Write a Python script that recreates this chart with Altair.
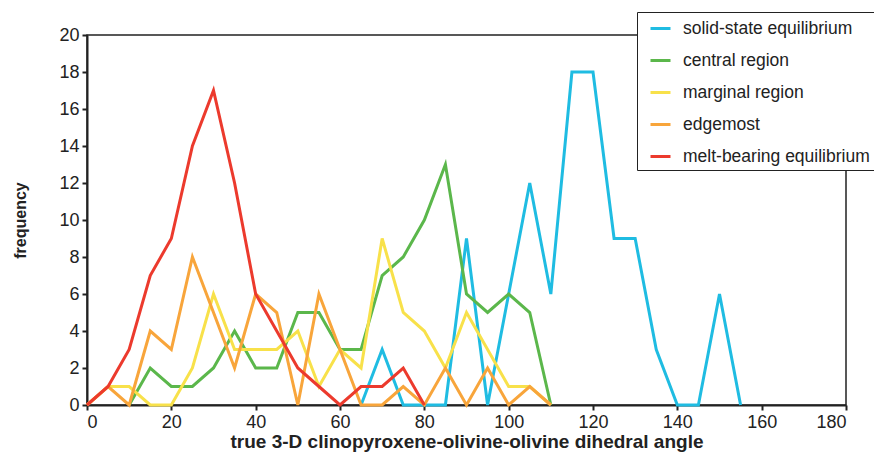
import altair as alt
import pandas as pd

series_names = ["solid-state equilibrium", "central region", "marginal region", "edgemost", "melt-bearing equilibrium"]
series_colors = ["#1FBCE2", "#5BB74B", "#F8E14A", "#F8A53B", "#EC3A2D"]

solid_angle = [65, 70, 75, 80, 85, 90, 95, 100, 105, 110, 115, 120, 125, 130, 135, 140, 145, 150, 155]
solid_freq = [0, 3, 0, 0, 0, 9, 0, 6, 12, 6, 18, 18, 9, 9, 3, 0, 0, 6, 0]

central_angle = [10, 15, 20, 25, 30, 35, 40, 45, 50, 55, 60, 65, 70, 75, 80, 85, 90, 95, 100, 105, 110]
central_freq = [0, 2, 1, 1, 2, 4, 2, 2, 5, 5, 3, 3, 7, 8, 10, 13, 6, 5, 6, 5, 0]

marginal_angle = [0, 5, 10, 15, 20, 25, 30, 35, 40, 45, 50, 55, 60, 65, 70, 75, 80, 85, 90, 95, 100, 105, 110]
marginal_freq = [0, 1, 1, 0, 0, 2, 6, 3, 3, 3, 4, 1, 3, 2, 9, 5, 4, 2, 5, 3, 1, 1, 0]

edge_angle = [0, 5, 10, 15, 20, 25, 30, 35, 40, 45, 50, 55, 60, 65, 70, 75, 80, 85, 90, 95, 100, 105, 110]
edge_freq = [0, 1, 0, 4, 3, 8, 5, 2, 6, 5, 0, 6, 3, 0, 0, 1, 0, 2, 0, 2, 0, 1, 0]

melt_angle = [0, 5, 10, 15, 20, 25, 30, 35, 40, 45, 50, 55, 60, 65, 70, 75, 80]
melt_freq = [0, 1, 3, 7, 9, 14, 17, 12, 6, 4, 2, 1, 0, 1, 1, 2, 0]

x_ticks = [0, 20, 40, 60, 80, 100, 120, 140, 160, 180]
y_ticks = [0, 2, 4, 6, 8, 10, 12, 14, 16, 18, 20]

pairs = [(solid_angle, solid_freq), (central_angle, central_freq), (marginal_angle, marginal_freq),
         (edge_angle, edge_freq), (melt_angle, melt_freq)]
frames = []
for i, (name, (a, f)) in enumerate(zip(series_names, pairs)):
    frames.append(pd.DataFrame({"angle": a, "freq": f, "series": name, "order": i}))
df = pd.concat(frames, ignore_index=True)

color = alt.Color("series:N",
                  scale=alt.Scale(domain=series_names, range=series_colors),
                  legend=alt.Legend(title=None, orient="none", legendX=550, legendY=-23,
                                    symbolType="stroke", symbolStrokeWidth=3, symbolSize=400,
                                    symbolOffset=7,
                                    labelFontSize=17.5, labelFont="Liberation Sans",
                                    labelColor="#222222", labelOffset=11, rowPadding=12,
                                    padding=5, strokeColor="#222222", fillColor="white",
                                    labelLimit=400))

xenc = alt.X("angle:Q", scale=alt.Scale(domain=[0, 180], nice=False),
             axis=alt.Axis(values=x_ticks, title="true 3-D clinopyroxene-olivine-olivine dihedral angle",
                           grid=False, titleFontSize=19, titleBaseline="alphabetic", titleY=42))
yenc = alt.Y("freq:Q", scale=alt.Scale(domain=[0, 20], nice=False),
             axis=alt.Axis(values=y_ticks, title="frequency", grid=False, titlePadding=30))

layers = []
for name in series_names:
    layers.append(
        alt.Chart(df).transform_filter(alt.datum.series == name)
        .mark_line(strokeWidth=3, strokeJoin="miter")
        .encode(x=xenc, y=yenc, color=color)
    )

chart = alt.layer(*layers).properties(
    width=759, height=370,
    autosize=alt.AutoSizeParams(type="none"),
    padding={"left": 79, "top": 27, "right": 28, "bottom": 47},
).configure_view(
    stroke="#222222", strokeWidth=1.5
).configure_axis(
    domainColor="#222222", domainWidth=2, tickColor="#222222", tickWidth=2, tickSize=5,
    labelFont="Liberation Sans, Arial", labelFontSize=18, labelColor="#222222",
    labelPadding=3,
    titleFont="Liberation Sans, Arial", titleFontSize=16, titleFontWeight="bold", titleColor="#222222"
)

chart.save("out.html", embed_options={"renderer": "svg", "actions": False})
